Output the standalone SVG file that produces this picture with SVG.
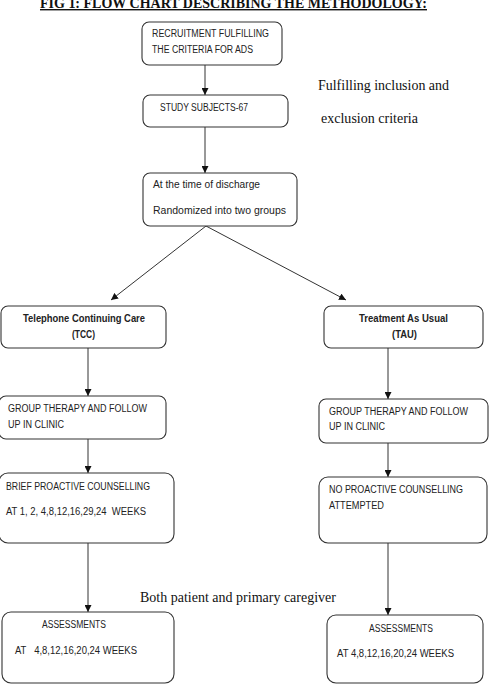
<svg xmlns="http://www.w3.org/2000/svg" width="491" height="700" viewBox="0 0 491 700">
<defs>
<marker id="ah" viewBox="0 0 10 10" refX="10" refY="5" markerWidth="7" markerHeight="7" markerUnits="userSpaceOnUse" orient="auto">
<path d="M0,0 L10,5 L0,10 z" fill="#111"/>
</marker>
<style>
.box{fill:#fff;stroke:#333;stroke-width:1.1}
.t{font-family:"Liberation Sans",Arial,sans-serif;font-size:10px;fill:#222}
.b{font-weight:bold}
.s{font-family:"Liberation Serif","Times New Roman",serif;font-size:15.5px;fill:#111}
.c{stroke:#333;stroke-width:1;fill:none;marker-end:url(#ah)}
</style>
</defs>
<rect width="491" height="700" fill="#fff"/>
<text x="40" y="8" class="s" style="font-weight:bold;font-size:14px;text-decoration:underline" textLength="387" lengthAdjust="spacingAndGlyphs">FIG 1: FLOW CHART DESCRIBING THE METHODOLOGY:</text>
<text x="318" y="90" class="s" textLength="131" lengthAdjust="spacingAndGlyphs">Fulfilling inclusion and</text>
<text x="321" y="123" class="s" textLength="97" lengthAdjust="spacingAndGlyphs">exclusion criteria</text>
<text x="140" y="602" class="s" textLength="196" lengthAdjust="spacingAndGlyphs">Both patient and primary caregiver</text>
<g id="connectors">
<line class="c" x1="205" y1="65" x2="205" y2="95"/>
<line class="c" x1="205" y1="127" x2="205" y2="173"/>
<line class="c" x1="206" y1="226" x2="111" y2="300"/>
<line class="c" x1="206" y1="226" x2="346" y2="300"/>
<line class="c" x1="88" y1="348" x2="88" y2="396"/>
<line class="c" x1="388" y1="348" x2="388" y2="399"/>
<line class="c" x1="88" y1="439" x2="88" y2="473"/>
<line class="c" x1="388" y1="443" x2="388" y2="477"/>
<line class="c" x1="88" y1="543" x2="88" y2="612"/>
<line class="c" x1="388" y1="543" x2="388" y2="615"/>
</g>
<g id="recruit">
<rect class="box" x="142" y="22" width="140" height="43" rx="7"/>
<text class="t" x="152" y="37" textLength="117" lengthAdjust="spacingAndGlyphs">RECRUITMENT FULFILLING</text>
<text class="t" x="152" y="53" textLength="101" lengthAdjust="spacingAndGlyphs">THE CRITERIA FOR ADS</text>
</g>
<g id="subjects">
<rect class="box" x="143" y="95" width="145" height="32" rx="7"/>
<text class="t" x="160" y="111" textLength="88" lengthAdjust="spacingAndGlyphs">STUDY SUBJECTS-67</text>
</g>
<g id="discharge">
<rect class="box" x="143" y="173" width="154" height="53" rx="7"/>
<text class="t" x="153" y="188" textLength="107" lengthAdjust="spacingAndGlyphs">At the time of discharge</text>
<text class="t" x="153" y="214" textLength="133" lengthAdjust="spacingAndGlyphs">Randomized into two groups</text>
</g>
<g id="tcc">
<rect class="box" x="1" y="306" width="165" height="42" rx="7"/>
<text class="t b" x="23" y="322" textLength="122" lengthAdjust="spacingAndGlyphs">Telephone Continuing Care</text>
<text class="t b" x="72" y="338" textLength="23" lengthAdjust="spacingAndGlyphs">(TCC)</text>
</g>
<g id="tau">
<rect class="box" x="324" y="306" width="159" height="42" rx="7"/>
<text class="t b" x="359" y="322" textLength="89" lengthAdjust="spacingAndGlyphs">Treatment As Usual</text>
<text class="t b" x="392" y="338" textLength="25" lengthAdjust="spacingAndGlyphs">(TAU)</text>
</g>
<g id="gt-left">
<rect class="box" x="-1" y="396" width="167" height="43" rx="7"/>
<text class="t" x="8" y="412" textLength="139" lengthAdjust="spacingAndGlyphs">GROUP THERAPY AND FOLLOW</text>
<text class="t" x="8" y="428" textLength="56" lengthAdjust="spacingAndGlyphs">UP IN CLINIC</text>
</g>
<g id="gt-right">
<rect class="box" x="319" y="399" width="169" height="44" rx="7"/>
<text class="t" x="329" y="415" textLength="139" lengthAdjust="spacingAndGlyphs">GROUP THERAPY AND FOLLOW</text>
<text class="t" x="329" y="430" textLength="56" lengthAdjust="spacingAndGlyphs">UP IN CLINIC</text>
</g>
<g id="bpc">
<rect class="box" x="-1" y="473" width="175" height="70" rx="9"/>
<text class="t" x="6" y="490" textLength="144" lengthAdjust="spacingAndGlyphs">BRIEF PROACTIVE COUNSELLING</text>
<text class="t" x="6" y="515" textLength="140" lengthAdjust="spacingAndGlyphs" xml:space="preserve">AT 1, 2, 4,8,12,16,29,24  WEEKS</text>
</g>
<g id="npc">
<rect class="box" x="319" y="477" width="168" height="66" rx="9"/>
<text class="t" x="329" y="493" textLength="134" lengthAdjust="spacingAndGlyphs">NO PROACTIVE COUNSELLING</text>
<text class="t" x="329" y="509" textLength="55" lengthAdjust="spacingAndGlyphs">ATTEMPTED</text>
</g>
<g id="assess-left">
<rect class="box" x="2" y="612" width="172" height="71" rx="9"/>
<text class="t" x="42" y="628" textLength="64" lengthAdjust="spacingAndGlyphs">ASSESSMENTS</text>
<text class="t" x="15" y="654" textLength="122" lengthAdjust="spacingAndGlyphs" xml:space="preserve">AT   4,8,12,16,20,24 WEEKS</text>
</g>
<g id="assess-right">
<rect class="box" x="327" y="615" width="156" height="68" rx="9"/>
<text class="t" x="369" y="632" textLength="64" lengthAdjust="spacingAndGlyphs">ASSESSMENTS</text>
<text class="t" x="337" y="657" textLength="117" lengthAdjust="spacingAndGlyphs">AT 4,8,12,16,20,24 WEEKS</text>
</g>
</svg>
